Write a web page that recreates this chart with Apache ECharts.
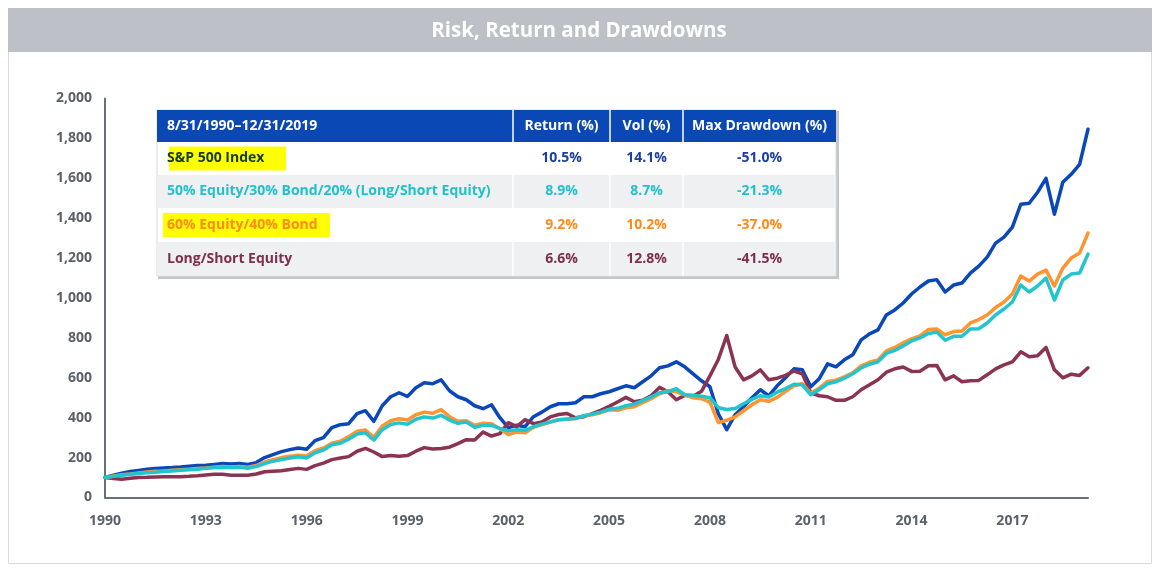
<!DOCTYPE html>
<html><head><meta charset="utf-8">
<script src="https://cdn.jsdelivr.net/npm/echarts@6/dist/echarts.min.js"></script>
<style>html,body{margin:0;padding:0;background:#fff}#c{width:1163px;height:577px}</style>
</head><body><div id="c"></div><script>
// ---- data ----
const startYear = 1990, startMonth = 8, stepMonths = 3, nPoints = 118;
const categories = [];
for (let i = 0; i < nPoints; i++) {
  const m = startMonth - 1 + i * stepMonths;
  const y = startYear + Math.floor(m / 12);
  const mm = (m % 12) + 1;
  categories.push(y + '-' + (mm < 10 ? '0' + mm : mm));
}
const labelEvery = 12; // one x label every 3 years
const seriesNames = ['S&P 500 Index', '50% Equity/30% Bond/20% (Long/Short Equity)', '60% Equity/40% Bond', 'Long/Short Equity'];
const sp500 = [
  100,112,122,130,136,142,145,148,150,153,
  157,160,162,166,170,168,170,166,175,200,
  215,230,240,248,242,285,300,350,365,370,
  420,435,382,460,505,525,507,550,575,570,
  590,535,505,490,460,445,465,400,350,362,
  355,405,428,455,470,470,475,505,505,520,
  530,545,560,550,580,610,650,660,680,655,
  620,585,555,420,340,415,455,500,540,510,
  560,600,645,640,555,595,670,655,690,715,
  790,820,840,915,940,975,1020,1055,1085,1092,
  1030,1065,1075,1125,1160,1205,1275,1305,1355,1470,
  1475,1530,1600,1420,1580,1620,1670,1846];
const mix503020 = [
  100,107,112,116,120,124,127,130,133,136,
  139,142,146,150,152,150,151,147,155,170,
  182,190,198,204,198,224,238,264,272,292,
  318,324,288,340,366,374,367,392,404,398,
  412,388,372,378,352,362,362,346,334,340,
  337,355,368,379,390,393,396,410,418,428,
  442,447,460,468,485,504,525,530,545,515,
  512,508,500,450,441,446,470,492,510,504,
  528,546,568,565,515,540,570,580,598,620,
  650,668,680,722,737,760,785,800,822,829,
  788,808,808,845,846,875,915,945,980,1065,
  1030,1060,1100,990,1090,1120,1125,1220];
const mix6040 = [
  100,108,114,118,123,128,131,133,136,139,
  142,145,148,152,156,153,155,152,160,178,
  190,200,207,212,208,235,248,272,282,305,
  332,338,302,358,385,395,388,415,428,422,
  440,405,382,385,362,372,370,345,315,328,
  325,352,365,378,390,392,396,410,415,425,
  440,437,450,455,475,495,520,535,530,515,
  500,495,478,375,387,404,435,465,490,482,
  502,532,560,570,522,548,582,588,605,625,
  660,678,690,735,752,775,795,810,842,845,
  815,832,835,875,892,915,952,980,1020,1110,
  1085,1120,1140,1060,1150,1200,1225,1325];
const longShort = [
  100,95,92,96,100,101,103,104,104,104,
  106,109,113,117,116,112,111,112,118,129,
  132,134,140,146,141,160,172,190,198,205,
  232,246,228,205,210,207,210,232,250,243,
  246,252,270,290,288,328,308,320,375,355,
  390,370,378,404,416,421,400,405,420,437,
  457,479,502,480,487,510,552,530,490,512,
  507,532,610,692,812,654,590,610,640,590,
  598,612,634,620,525,510,505,487,487,505,
  540,565,590,628,645,654,632,633,660,662,
  590,610,580,585,587,615,645,665,680,730,
  705,710,752,640,600,618,612,650];
const yTicks = { min: 0, max: 2000, interval: 200 };
const tableHeader = ['8/31/1990\u201312/31/2019', 'Return (%)', 'Vol (%)', 'Max Drawdown (%)'];
const tableNames = ['S&P 500 Index', '50% Equity/30% Bond/20% (Long/Short Equity)', '60% Equity/40% Bond', 'Long/Short Equity'];
const tableReturn = ['10.5%', '8.9%', '9.2%', '6.6%'];
const tableVol = ['14.1%', '8.7%', '10.2%', '12.8%'];
const tableMaxDD = ['-51.0%', '-21.3%', '-37.0%', '-41.5%'];
const titleText = 'Risk, Return and Drawdowns';

// ---- styles ----
const lineColors = ['#0a47b8', '#22c5ce', '#ff9430', '#8a3352'];
const nameColors = ['#15392c', '#22c0cb', '#ff8a1a', '#7d2f4c'];
const valueColors = ['#1d3f9c', '#22c0cb', '#ff8a1a', '#7d2f4c'];
const highlight = [true, false, true, false];
const hlX = [169, 0, 163, 0];
const hlWidth = [117, 0, 167, 0];
const colX = [157, 513, 610, 683, 836];
const rowY = [110, 142, 175, 208, 242, 276];
const font = '"Open Sans", Lato, sans-serif';
const tFont = 'bold 14px ' + font;

const chart = echarts.init(document.getElementById('c'), null, { renderer: 'canvas' });

const g = [];
g.push({ type: 'rect', shape: { x: 8.5, y: 8.5, width: 1143, height: 555 }, style: { fill: '#fff', stroke: '#d9dbde', lineWidth: 1 }, z: -10, silent: true });
g.push({ type: 'rect', shape: { x: 8, y: 8, width: 1144, height: 44 }, style: { fill: '#bdc0c6' }, z: -9, silent: true });
g.push({ type: 'text', x: 579, y: 31, style: { text: titleText, fill: '#ffffff', font: 'bold 20.5px ' + font, textAlign: 'center', textVerticalAlign: 'middle', verticalAlign: 'middle' }, z: 5, silent: true });

// table
const tz = 20;
const tW = colX[4] - colX[0], tH = rowY[5] - rowY[0];
g.push({ type: 'rect', shape: { x: colX[0] + 1, y: rowY[0] + 1, width: tW + 2, height: tH + 2 }, style: { fill: '#c3c6cb' }, z: tz });
g.push({ type: 'rect', shape: { x: colX[0], y: rowY[0], width: tW, height: tH }, style: { fill: '#ffffff', stroke: '#d5d8dc', lineWidth: 1 }, z: tz + 1 });
g.push({ type: 'rect', shape: { x: colX[0], y: rowY[0], width: tW, height: rowY[1] - rowY[0] }, style: { fill: '#0a49b5' }, z: tz + 2 });
for (let r = 0; r < 4; r++) {
  if (r % 2 === 1) {
    g.push({ type: 'rect', shape: { x: colX[0] + 0.5, y: rowY[r + 1], width: tW - 1, height: rowY[r + 2] - rowY[r + 1] }, style: { fill: '#eff0f2' }, z: tz + 2 });
  }
}
for (let c = 1; c < 4; c++) {
  g.push({ type: 'line', shape: { x1: colX[c], y1: rowY[0], x2: colX[c], y2: rowY[5] - 0.5 }, style: { stroke: '#ffffff', lineWidth: 1.5 }, z: tz + 3 });
}
const hdrCenters = [null, (colX[1] + colX[2]) / 2, (colX[2] + colX[3]) / 2, (colX[3] + colX[4]) / 2];
const hy = (rowY[0] + rowY[1]) / 2;
g.push({ type: 'text', x: colX[0] + 10, y: hy, style: { text: tableHeader[0], fill: '#fff', font: tFont, textAlign: 'left', textVerticalAlign: 'middle', verticalAlign: 'middle' }, z: tz + 5 });
for (let c = 1; c < 4; c++) {
  g.push({ type: 'text', x: hdrCenters[c], y: hy, style: { text: tableHeader[c], fill: '#fff', font: tFont, textAlign: 'center', textVerticalAlign: 'middle', verticalAlign: 'middle' }, z: tz + 5 });
}
for (let r = 0; r < 4; r++) {
  const cy = (rowY[r + 1] + rowY[r + 2]) / 2;
  if (highlight[r]) {
    g.push({ type: 'rect', shape: { x: hlX[r], y: cy - 12, width: hlWidth[r], height: 24 }, style: { fill: '#ffff00' }, z: tz + 4 });
  }
  g.push({ type: 'text', x: colX[0] + 10, y: cy, style: { text: tableNames[r], fill: nameColors[r], font: tFont, textAlign: 'left', textVerticalAlign: 'middle', verticalAlign: 'middle' }, z: tz + 5 });
  const vals = [tableReturn[r], tableVol[r], tableMaxDD[r]];
  for (let c = 1; c < 4; c++) {
    g.push({ type: 'text', x: hdrCenters[c], y: cy, style: { text: vals[c - 1], fill: valueColors[r], font: tFont, textAlign: 'center', textVerticalAlign: 'middle', verticalAlign: 'middle' }, z: tz + 5 });
  }
}

const allData = [sp500, mix503020, mix6040, longShort];
const drawOrder = [0, 3, 2, 1];
const series = drawOrder.map(k => ({
  name: seriesNames[k], type: 'line', data: allData[k], showSymbol: false, symbol: 'none',
  lineStyle: { color: lineColors[k], width: 3.5, join: 'round', cap: 'round' },
  itemStyle: { color: lineColors[k] }, z: 2, animation: false
}));

const axisColor = '#6b6f77';
const labelColor = '#5d6168';
chart.setOption({
  animation: false,
  grid: { left: 105, right: 75, top: 98.5, bottom: 79.5, containLabel: false },
  xAxis: {
    type: 'category', data: categories, boundaryGap: false,
    axisLine: { show: true, lineStyle: { color: axisColor, width: 2 } },
    axisTick: { show: false },
    axisLabel: { interval: (idx) => idx % labelEvery === 0, margin: 17, color: labelColor, fontFamily: font, fontWeight: 'bold', fontSize: 14, formatter: v => v.slice(0, 4) },
    splitLine: { show: false }
  },
  yAxis: {
    type: 'value', min: yTicks.min, max: yTicks.max, interval: yTicks.interval,
    axisLine: { show: true, lineStyle: { color: axisColor, width: 2 } },
    axisTick: { show: false },
    axisLabel: { margin: 13, color: labelColor, fontFamily: font, fontWeight: 'bold', fontSize: 14, formatter: v => v.toLocaleString('en-US') },
    splitLine: { show: false }
  },
  graphic: g,
  series: series
});
</script></body></html>
